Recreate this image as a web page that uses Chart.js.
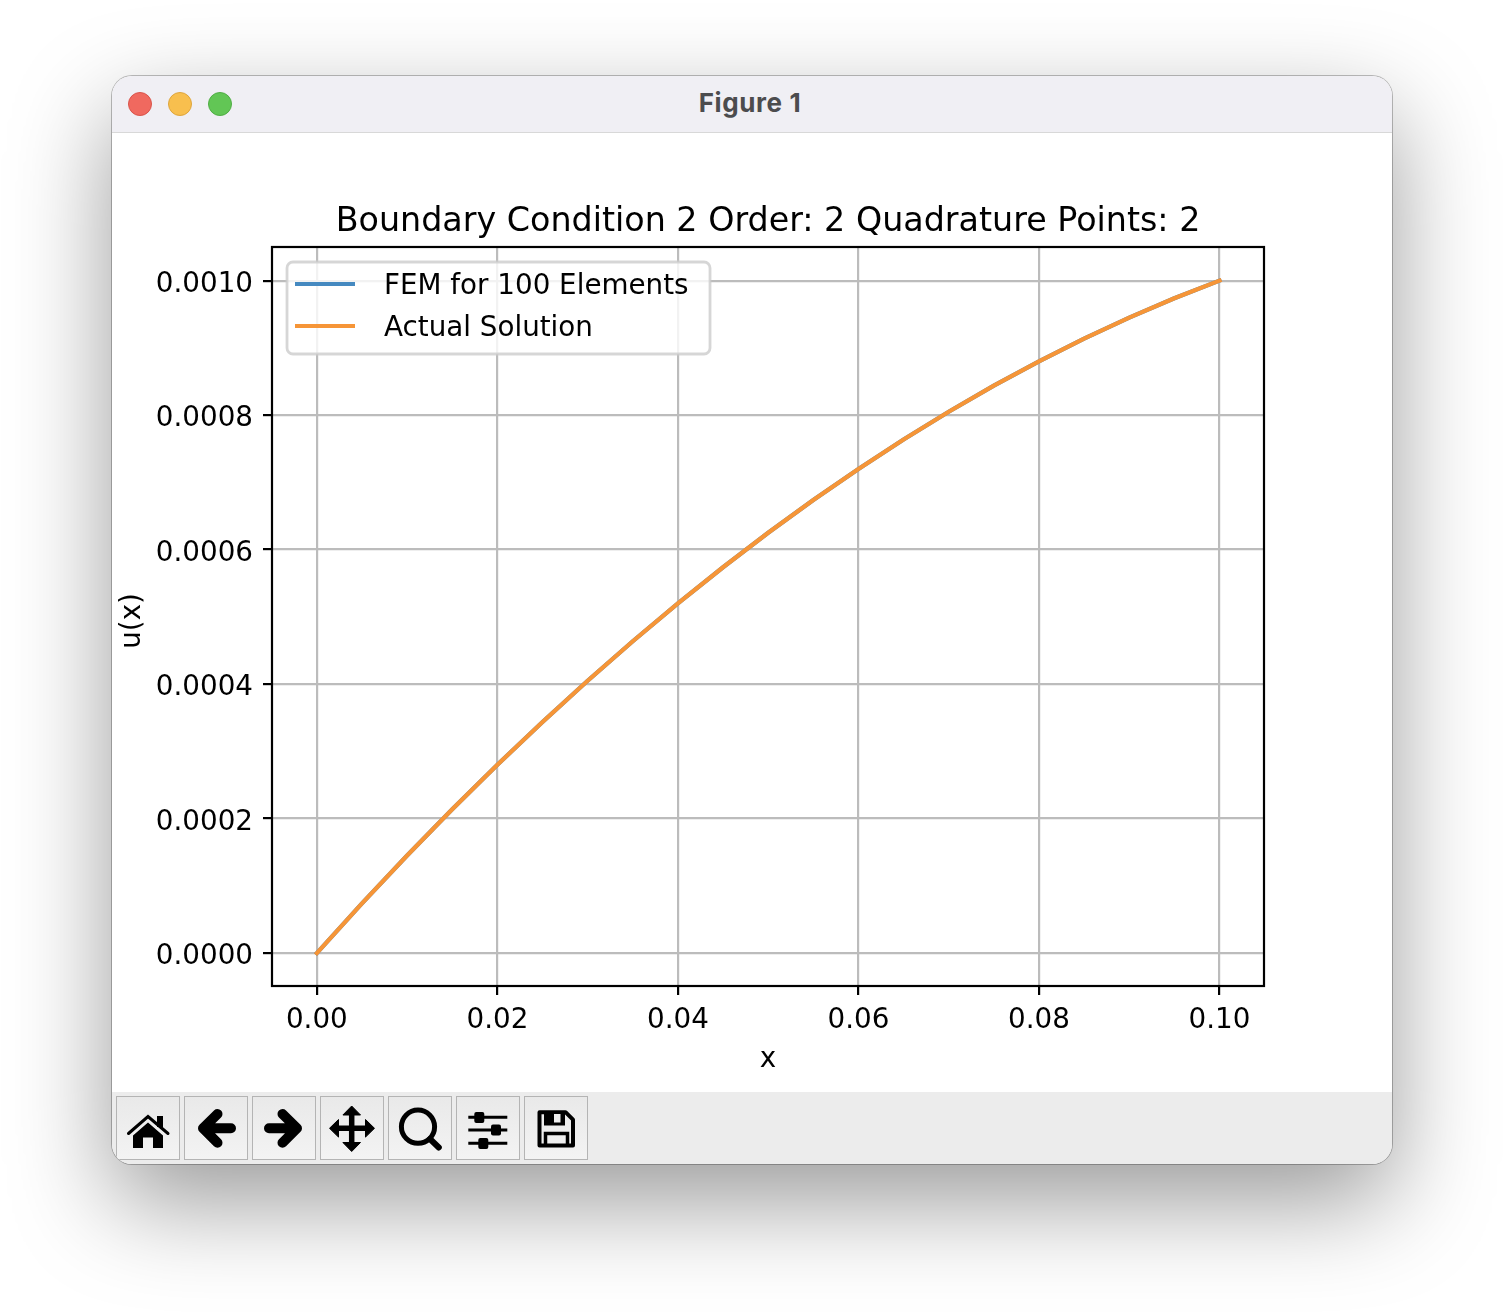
<!DOCTYPE html>
<html><head><meta charset="utf-8">
<script src="https://cdn.jsdelivr.net/npm/chart.js@4/dist/chart.umd.js"></script>
<style>
html,body{margin:0;padding:0;background:#fff;width:1504px;height:1312px;overflow:hidden}
#win{position:absolute;left:112px;top:76px;width:1280px;height:1088px;border-radius:20px;background:#fff;
 box-shadow:0 0 0 1px rgba(0,0,0,.25),0 38px 100px rgba(0,0,0,.4);overflow:hidden}
#bar{position:absolute;left:0;top:0;width:1280px;height:56px;background:#f0eff4;border-bottom:1px solid #d8d8d8;box-sizing:content-box}
.dot{position:absolute;top:16px;width:24px;height:24px;border-radius:50%;box-sizing:border-box}
#ttl{position:absolute;left:0;width:1276px;top:0;height:56px;text-align:center;font:700 26px/54px Inter,"Liberation Sans",sans-serif;letter-spacing:.6px;color:#4c4c4e}
#cv{position:absolute;left:0;top:57px;width:1280px;height:959px}
#tools{position:absolute;left:0;top:1016px;width:1280px;height:72px;background:#ececec}
.b{position:absolute;top:4px;width:64px;height:64px;box-sizing:border-box;border:1px solid #b4b4b4;background:linear-gradient(#e9e9e9,#f3f3f3)}
.b svg{position:absolute;left:-1px;top:-1px;width:64px;height:64px}
</style></head><body>
<div id="win">
 <div id="bar">
  <div class="dot" style="left:16px;background:#f0695f;border:1px solid #d9544b"></div>
  <div class="dot" style="left:56px;background:#f8bf4e;border:1px solid #dea53d"></div>
  <div class="dot" style="left:96px;background:#62c655;border:1px solid #50ad45"></div>
  <div id="ttl">Figure 1</div>
 </div>
 <div id="cv"><canvas id="c" width="1280" height="959" style="width:1280px;height:959px;display:block"></canvas></div>
 <div id="tools">
  <div class="b" style="left:4px"><svg viewBox="0 0 64 64"><path d="M12.5 37.5L32 20.5L52 37.5" fill="none" stroke="#000" stroke-width="3" stroke-linecap="round"/><path d="M41 20h6v11h-6z"/><path d="M17 39.5L32 26.5L47 39.5V52H37V41.5H27V52H17z"/></svg></div>
  <div class="b" style="left:72px"><svg viewBox="0 0 64 64"><path d="M47 32.3H20M33.5 18L19 32.3L33.5 46.7" fill="none" stroke="#000" stroke-width="10" stroke-linecap="round" stroke-linejoin="round"/></svg></div>
  <div class="b" style="left:140px"><svg viewBox="0 0 64 64"><path d="M17 32.3H44M30.5 18L45 32.3L30.5 46.7" fill="none" stroke="#000" stroke-width="10" stroke-linecap="round" stroke-linejoin="round"/></svg></div>
  <div class="b" style="left:208px"><svg viewBox="0 0 64 64"><path d="M31.7 14V50.5M13 32.3H50" stroke="#000" stroke-width="5.5" fill="none"/><path d="M31.7 10L40.5 19H22.9z M31.7 55.5L40.5 46.5H22.9z M9.5 32.3L18.5 23.5V41.1z M54.5 32.3L45.5 23.5V41.1z" stroke="#000" stroke-width="1" stroke-linejoin="round"/></svg></div>
  <div class="b" style="left:276px"><svg viewBox="0 0 64 64"><circle cx="30" cy="30.7" r="16.6" fill="none" stroke="#000" stroke-width="5"/><path d="M42 43L50.8 51.5" stroke="#000" stroke-width="6" stroke-linecap="round"/></svg></div>
  <div class="b" style="left:344px"><svg viewBox="0 0 64 64"><path d="M12.3 21.3H51.3M12.3 34H51.3M12.3 47.3H51.3" stroke="#000" stroke-width="3" fill="none"/><rect x="18.3" y="16" width="10" height="11" rx="2"/><rect x="35" y="28.5" width="10" height="11" rx="2"/><rect x="22.3" y="42" width="10" height="11" rx="2"/></svg></div>
  <div class="b" style="left:412px"><svg viewBox="0 0 64 64"><path d="M15.5 16.2H41.5L49 23.7V49.5H15.5z" fill="none" stroke="#000" stroke-width="4" stroke-linejoin="round"/><path d="M20 16H41V29.5H20z"/><path d="M30 18H36.5V26.5H30z" fill="#efefef"/><path d="M21.5 49.5V37.5H43.5V49.5" fill="none" stroke="#000" stroke-width="3.5"/></svg></div>
 </div>
</div>
<script>
const TITLE = 'Boundary Condition 2 Order: 2 Quadrature Points: 2';
const X_LABEL = 'x';
const Y_LABEL = 'u(x)';
const SERIES_NAMES = ['FEM for 100 Elements', 'Actual Solution'];
const xValues = [0,0.005,0.01,0.015,0.02,0.025,0.03,0.035,0.04,0.045,0.05,0.055,0.06,0.065,0.07,0.075,0.08,0.085,0.09,0.095,0.1];
const femValues = [0,0.00007375,0.000145,0.00021375,0.00028,0.00034375,0.000405,0.00046375,0.00052,0.00057375,0.000625,0.00067375,0.00072,0.00076375,0.000805,0.00084375,0.00088,0.00091375,0.000945,0.00097375,0.001];
const actualValues = [0,0.00007375,0.000145,0.00021375,0.00028,0.00034375,0.000405,0.00046375,0.00052,0.00057375,0.000625,0.00067375,0.00072,0.00076375,0.000805,0.00084375,0.00088,0.00091375,0.000945,0.00097375,0.001];

const FONT = '"DejaVu Sans"';
const BLUE = '#4589c0', ORANGE = '#f69537';

const framePlugin = {
  id: 'frame',
  beforeDraw(chart) {
    chart.scales.y.getLabelItems(chart.chartArea).forEach(it => { it.textOffset = 4; });
  },
  afterDatasetsDraw(chart) {
    const {ctx, chartArea: a} = chart;
    ctx.save();
    ctx.strokeStyle = '#000'; ctx.lineWidth = 2.2;
    ctx.strokeRect(a.left, a.top, a.right - a.left, a.bottom - a.top);
    const x = a.left + 15, y = a.top + 15, w = 423, h = 92;
    ctx.beginPath(); ctx.roundRect(x, y, w, h, 6);
    ctx.fillStyle = 'rgba(255,255,255,0.8)'; ctx.fill();
    ctx.strokeStyle = 'rgba(204,204,204,0.8)'; ctx.lineWidth = 2.8; ctx.stroke();
    ctx.font = '27.78px ' + FONT; ctx.textBaseline = 'middle'; ctx.textAlign = 'left';
    chart.data.datasets.forEach((ds, i) => {
      const ly = a.top + 37 + i * 42;
      ctx.strokeStyle = ds.borderColor; ctx.lineWidth = 4.2;
      ctx.beginPath(); ctx.moveTo(x + 8, ly); ctx.lineTo(x + 68, ly); ctx.stroke();
      ctx.fillStyle = '#000';
      ctx.fillText(ds.label, x + 97, ly + 3);
    });
    ctx.restore();
  }
};

new Chart(document.getElementById('c'), {
  type: 'line',
  data: {
    datasets: [
      {label: SERIES_NAMES[0], data: xValues.map((x, i) => ({x, y: femValues[i]})), borderColor: BLUE, backgroundColor: BLUE, borderWidth: 4.2, pointRadius: 0, tension: 0, borderCapStyle: 'square', order: 2},
      {label: SERIES_NAMES[1], data: xValues.map((x, i) => ({x, y: actualValues[i]})), borderColor: ORANGE, backgroundColor: ORANGE, borderWidth: 4.2, pointRadius: 0, tension: 0, borderCapStyle: 'square', order: 1}
    ]
  },
  plugins: [framePlugin],
  options: {
    responsive: false, animation: false, devicePixelRatio: 1,
    layout: {padding: {left: 0, right: 128, top: 69, bottom: 0}},
    plugins: {
      legend: {display: false},
      tooltip: {enabled: false},
      title: {display: true, text: TITLE, fullSize: false, color: '#000',
        font: {family: FONT, size: 33.33, weight: 'normal', lineHeight: 1.2}, padding: {top: 0, bottom: 5}}
    },
    scales: {
      x: {
        type: 'linear', min: -0.00497, max: 0.10493, afterFit(s) { s.height = 106; },
        grid: {color: '#bcbcbc', lineWidth: 2.2, tickColor: '#000', tickWidth: 2.2, tickLength: 9, drawOnChartArea: true},
        border: {display: false},
        ticks: {stepSize: 0.02, includeBounds: false, autoSkip: false, maxRotation: 0, color: '#000', padding: 9,
          font: {family: FONT, size: 27.78}, callback: v => v.toFixed(2)},
        title: {display: true, text: X_LABEL, color: '#000', font: {family: FONT, size: 27.78, lineHeight: 1.2}, padding: {top: 0, bottom: 16}}
      },
      y: {
        type: 'linear', min: -0.000049, max: 0.00105, afterFit(s) { s.width = 160; },
        grid: {color: '#bcbcbc', lineWidth: 2.2, tickColor: '#000', tickWidth: 2.2, tickLength: 9, drawOnChartArea: true},
        border: {display: false},
        ticks: {stepSize: 0.0002, includeBounds: false, autoSkip: false, color: '#000', padding: 10,
          font: {family: FONT, size: 27.78}, callback: v => v.toFixed(4)},
        title: {display: true, text: Y_LABEL + ' ', color: '#000', font: {family: FONT, size: 27.78, lineHeight: 1.2}, padding: {top: 4, bottom: 0}}
      }
    }
  }
});
</script>
</body></html>
